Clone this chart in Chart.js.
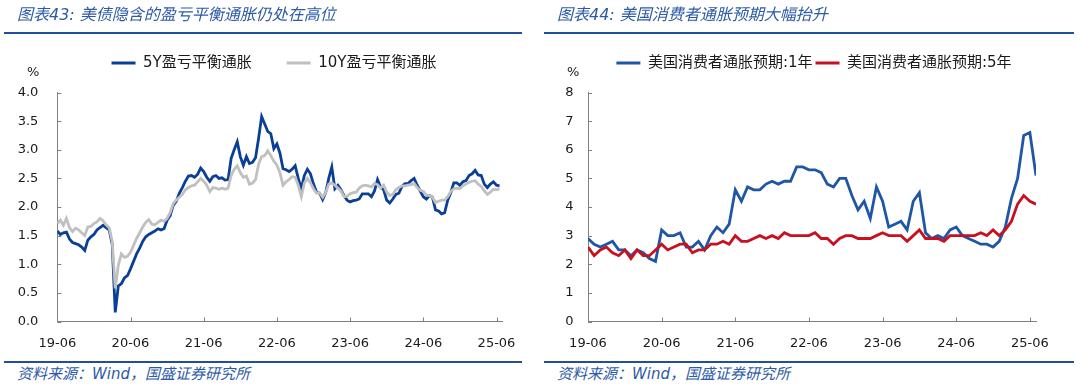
<!DOCTYPE html>
<html>
<head>
<meta charset="utf-8">
<script src="https://cdn.jsdelivr.net/npm/chart.js@4.4.1/dist/chart.umd.min.js"></script>
<style>
  html, body { margin: 0; padding: 0; background: #fff; }
  body { width: 1080px; height: 388px; position: relative; overflow: hidden;
         font-family: "DejaVu Sans", "Noto Sans CJK SC", sans-serif; }
  canvas { position: absolute; top: 0; }
  .abs { position: absolute; white-space: nowrap; }
  .title { font-style: italic; color: #2d5aa6; font-size: 16px; line-height: 20px; }
  .rule { background: #1f4f9d; height: 2px; }
  .src { font-style: italic; color: #2d5aa6; font-size: 15px; line-height: 18px; }
  .unit { font-size: 13px; color: #1a1a1a; line-height: 16px; }
</style>
</head>
<body>
<canvas id="left" width="540" height="360" style="left:0"></canvas>
<canvas id="right" width="540" height="360" style="left:540px"></canvas>

<div class="abs title" style="left:17px;top:5px">图表43: 美债隐含的盈亏平衡通胀仍处在高位</div>
<div class="abs title" style="left:557px;top:5px">图表44: 美国消费者通胀预期大幅抬升</div>
<div class="abs rule" style="left:4px;top:32px;width:518px"></div>
<div class="abs rule" style="left:544px;top:32px;width:530px"></div>
<div class="abs unit" style="left:27px;top:64px">%</div>
<div class="abs unit" style="left:567px;top:64px">%</div>
<div class="abs rule" style="left:4px;top:361px;width:518px"></div>
<div class="abs rule" style="left:544px;top:361px;width:530px"></div>
<div class="abs src" style="left:17px;top:365px">资料来源：Wind，国盛证券研究所</div>
<div class="abs src" style="left:557px;top:365px">资料来源：Wind，国盛证券研究所</div>

<script>
// x axis: months after 2019-06
const xTickLabels = ['19-06', '20-06', '21-06', '22-06', '23-06', '24-06', '25-06'];
const xTickMonths = [0, 12, 24, 36, 48, 60, 72];

// breakeven inflation, read every half month from 19-06
const beStep = 0.5;
const be5Y = [
  1.58, 1.52, 1.55, 1.56, 1.44, 1.38, 1.36, 1.34, 1.30, 1.24, 1.42, 1.48, 1.52, 1.60, 1.64, 1.68, 1.64, 1.60, 1.35, 0.16, 0.62, 0.66, 0.76, 0.80,
  0.92, 1.05, 1.18, 1.28, 1.40, 1.48, 1.52, 1.55, 1.58, 1.62, 1.60, 1.62, 1.77, 1.85, 2.03, 2.10, 2.24, 2.34, 2.45, 2.54, 2.55, 2.52, 2.57, 2.68,
  2.62, 2.52, 2.45, 2.53, 2.55, 2.50, 2.51, 2.47, 2.48, 2.85, 3.00, 3.14, 2.88, 2.73, 2.88, 2.76, 2.78, 2.86, 3.20, 3.58, 3.45, 3.32, 3.28, 3.02,
  3.10, 2.94, 2.67, 2.65, 2.62, 2.66, 2.72, 2.50, 2.32, 2.55, 2.66, 2.58, 2.40, 2.26, 2.24, 2.13, 2.25, 2.50, 2.70, 2.32, 2.38, 2.30, 2.20, 2.12,
  2.09, 2.11, 2.12, 2.14, 2.23, 2.23, 2.23, 2.18, 2.28, 2.48, 2.35, 2.30, 2.12, 2.07, 2.14, 2.22, 2.24, 2.36, 2.41, 2.41, 2.46, 2.50, 2.38, 2.28,
  2.18, 2.14, 2.20, 2.17, 1.95, 1.93, 1.88, 1.90, 2.12, 2.25, 2.42, 2.42, 2.38, 2.44, 2.46, 2.55, 2.58, 2.64, 2.56, 2.55, 2.40, 2.34, 2.40, 2.44,
  2.38, 2.37
];
const be10Y = [
  1.71, 1.77, 1.68, 1.80, 1.64, 1.57, 1.63, 1.60, 1.55, 1.50, 1.65, 1.66, 1.71, 1.74, 1.80, 1.76, 1.69, 1.64, 1.40, 0.58, 0.98, 1.18, 1.12, 1.14,
  1.21, 1.33, 1.45, 1.55, 1.65, 1.73, 1.78, 1.70, 1.69, 1.73, 1.77, 1.75, 1.80, 1.90, 2.06, 2.12, 2.17, 2.22, 2.30, 2.34, 2.37, 2.38, 2.44, 2.50,
  2.45, 2.38, 2.27, 2.34, 2.33, 2.31, 2.33, 2.31, 2.33, 2.55, 2.66, 2.72, 2.60, 2.52, 2.54, 2.40, 2.42, 2.48, 2.75, 2.88, 2.90, 2.98, 2.90, 2.80,
  2.73, 2.60, 2.38, 2.44, 2.48, 2.53, 2.52, 2.38, 2.18, 2.42, 2.50, 2.42, 2.32, 2.24, 2.25, 2.17, 2.25, 2.40, 2.42, 2.38, 2.33, 2.28, 2.18, 2.19,
  2.23, 2.25, 2.26, 2.33, 2.37, 2.38, 2.37, 2.35, 2.41, 2.39, 2.33, 2.38, 2.26, 2.20, 2.22, 2.30, 2.34, 2.37, 2.37, 2.38, 2.39, 2.41, 2.34, 2.29,
  2.27, 2.21, 2.20, 2.17, 2.08, 2.10, 2.12, 2.12, 2.18, 2.27, 2.32, 2.33, 2.32, 2.37, 2.40, 2.43, 2.45, 2.46, 2.40, 2.36, 2.28, 2.22, 2.26, 2.31,
  2.30, 2.32
];

// consumer inflation expectations, one value per month from 19-06
const infl1Y = [
  2.9, 2.7, 2.6, 2.7, 2.8, 2.5, 2.5, 2.3, 2.5, 2.4, 2.2, 2.1,
  3.2, 3.0, 3.0, 3.1, 2.6, 2.6, 2.8, 2.5, 3.0, 3.3, 3.1, 3.4,
  4.6, 4.2, 4.7, 4.6, 4.6, 4.8, 4.9, 4.8, 4.9, 4.9, 5.4, 5.4,
  5.3, 5.3, 5.2, 4.8, 4.7, 5.0, 5.0, 4.4, 3.9, 4.2, 3.6, 4.7,
  4.2, 3.3, 3.4, 3.5, 3.2, 4.2, 4.5, 3.1, 2.9, 3.0, 2.9, 3.2,
  3.3, 3.0, 2.9, 2.8, 2.7, 2.7, 2.6, 2.8, 3.3, 4.3, 5.0, 6.5,
  6.6, 5.1
];
const infl5Y = [
  2.6, 2.3, 2.5, 2.6, 2.4, 2.3, 2.5, 2.2, 2.5, 2.3, 2.3, 2.5,
  2.7, 2.5, 2.6, 2.7, 2.7, 2.4, 2.5, 2.5, 2.7, 2.7, 2.8, 2.7,
  3.0, 2.8, 2.8, 2.9, 3.0, 2.9, 3.0, 2.9, 3.1, 3.0, 3.0, 3.0,
  3.0, 3.1, 2.9, 2.9, 2.7, 2.9, 3.0, 3.0, 2.9, 2.9, 2.9, 3.0,
  3.1, 3.0, 3.0, 3.0, 2.8, 3.0, 3.2, 2.9, 2.9, 2.9, 2.8, 3.0,
  3.0, 3.0, 3.0, 3.0, 3.1, 3.0, 3.2, 3.0, 3.2, 3.5, 4.1, 4.4,
  4.2, 4.1
];

const axisColor = '#808080';
const textColor = '#1a1a1a';
const fontFamily = "'DejaVu Sans', 'Noto Sans CJK SC', sans-serif";

// tick marks point into the plot
const innerTicks = {
  id: 'innerTicks',
  beforeDatasetsDraw(chart) {
    const { ctx, chartArea: a, scales: { x, y } } = chart;
    ctx.save();
    ctx.strokeStyle = axisColor;
    ctx.lineWidth = 1;
    ctx.beginPath();
    y.ticks.forEach(t => {
      const py = Math.round(y.getPixelForValue(t.value)) + 0.5;
      ctx.moveTo(a.left, py);
      ctx.lineTo(a.left + 4, py);
    });
    x.ticks.forEach(t => {
      const px = Math.round(x.getPixelForValue(t.value)) + 0.5;
      ctx.moveTo(px, a.bottom);
      ctx.lineTo(px, a.bottom - 4);
    });
    ctx.stroke();
    ctx.restore();
  }
};

// fixed legend height, legend centred on a given x
function legendBox(h, centerX) {
  return {
    id: 'legendBox',
    beforeInit(chart) {
      const fit = chart.legend.fit;
      chart.legend.fit = function () {
        fit.call(this);
        this.height = h;
      };
    },
    afterLayout(chart) {
      chart.legend.left = centerX - 250;
      chart.legend.right = centerX + 250;
    }
  };
}

function makeChart(id, cfg) {
  return new Chart(document.getElementById(id), {
    type: 'line',
    data: { datasets: cfg.datasets },
    options: {
      responsive: false,
      animation: false,
      devicePixelRatio: 1,
      layout: { padding: cfg.padding },
      elements: { point: { radius: 0 }, line: { tension: 0 } },
      plugins: {
        tooltip: { enabled: false },
        legend: {
          position: 'top',
          labels: {
            usePointStyle: true,
            pointStyle: 'line',
            pointStyleWidth: 24,
            padding: cfg.legendPad,
            color: textColor,
            font: { size: 15, family: fontFamily },
            sort: (a, b) => a.datasetIndex - b.datasetIndex
          }
        }
      },
      scales: {
        x: {
          type: 'linear',
          min: 0,
          max: 73,
          afterBuildTicks: s => { s.ticks = xTickMonths.map(v => ({ value: v })); },
          afterFit: s => { s.height = 38.5; },
          grid: { display: true, drawOnChartArea: false, drawTicks: false },
          border: { color: axisColor, width: 1 },
          ticks: {
            padding: 14,
            maxRotation: 0,
            autoSkip: false,
            color: textColor,
            font: { size: 13, family: fontFamily },
            callback: (v, i) => xTickLabels[i]
          }
        },
        y: {
          min: 0,
          max: cfg.yMax,
          afterFit: s => { s.width = cfg.yWidth; },
          grid: { display: true, drawOnChartArea: false, drawTicks: false },
          border: { color: axisColor, width: 1 },
          ticks: {
            stepSize: cfg.yStep,
            padding: cfg.yPad,
            color: textColor,
            font: { size: 13, family: fontFamily },
            callback: cfg.yFormat
          }
        }
      }
    },
    plugins: [innerTicks, legendBox(cfg.legendH, 274)]
  });
}

makeChart('left', {
  padding: { left: 0, right: 37.4, top: 20.5, bottom: 0 },
  legendPad: 35,
  legendH: 72,
  yMax: 4,
  yStep: 0.5,
  yPad: 19,
  yWidth: 57.3,
  yFormat: v => v.toFixed(1),
  datasets: [
    {
      label: '5Y盈亏平衡通胀',
      data: be5Y.map((v, i) => ({ x: i * beStep, y: v })),
      borderColor: '#0a3f97',
      backgroundColor: '#0a3f97',
      borderWidth: 2.8,
      order: 1
    },
    {
      label: '10Y盈亏平衡通胀',
      data: be10Y.map((v, i) => ({ x: i * beStep, y: v })),
      borderColor: '#c0c0c0',
      backgroundColor: '#c0c0c0',
      borderWidth: 2.8,
      order: 0
    }
  ]
});

makeChart('right', {
  padding: { left: 0, right: 44, top: 52.5, bottom: 0 },
  legendPad: 3,
  legendH: 40,
  yMax: 8,
  yStep: 1,
  yPad: 14.5,
  yWidth: 48,
  yFormat: v => String(v),
  datasets: [
    {
      label: '美国消费者通胀预期:1年',
      data: infl1Y.map((v, i) => ({ x: i, y: v })),
      borderColor: '#1f56a5',
      backgroundColor: '#1f56a5',
      borderWidth: 2.8,
      order: 1
    },
    {
      label: '美国消费者通胀预期:5年',
      data: infl5Y.map((v, i) => ({ x: i, y: v })),
      borderColor: '#c8101e',
      backgroundColor: '#c8101e',
      borderWidth: 2.8,
      order: 0
    }
  ]
});
</script>
</body>
</html>
